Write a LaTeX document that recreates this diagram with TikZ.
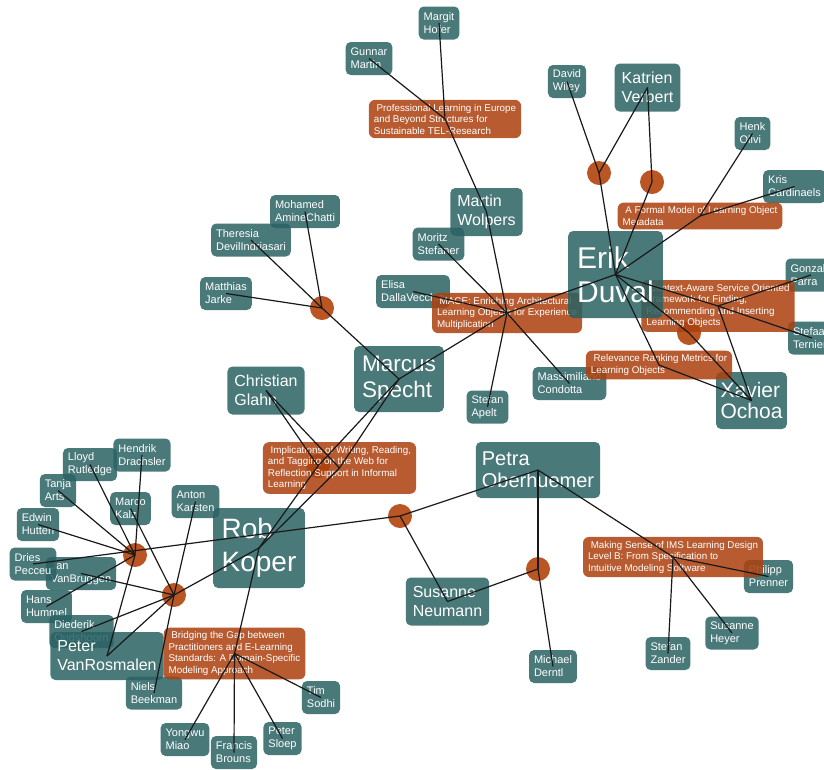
\documentclass[tikz,border=0pt]{standalone}
\usepackage{fontspec}
\setmainfont{Liberation Sans}

\definecolor{authorcol}{RGB}{42,97,99}
\definecolor{papercol}{RGB}{172,64,14}
\definecolor{hubcol}{RGB}{186,86,36}
\definecolor{linecol}{RGB}{25,25,25}

\tikzset{
  author/.style={fill=authorcol, fill opacity=0.85, text opacity=1, text=white,
    rounded corners=5pt, align=left, inner xsep=5pt, inner ysep=3pt,
    minimum height=33pt, font=\fontsize{11}{13}\selectfont},
  authorm/.style={author, inner xsep=7pt, minimum height=48pt,
    font=\fontsize{16}{19}\selectfont},
  paper/.style={fill=papercol, fill opacity=0.86, text opacity=1, text=white,
    rounded corners=6pt, align=left, inner xsep=5pt, inner ysep=4pt,
    font=\fontsize{9.8}{11.5}\selectfont},
  hub/.style={circle, fill=hubcol, minimum size=24pt, inner sep=0pt},
  link/.style={draw=linecol, line width=1.2pt}
}

\begin{document}
\begin{tikzpicture}[x=1pt, y=-1pt]
  \useasboundingbox (0,0) rectangle (824,769);

  % hubs (co-authored items without a title box)
  \node[hub] (h1) at (599,173) {};
  \node[hub] (h2) at (652,182) {};
  \node[hub] (h3) at (322,308) {};
  \node[hub] (h4) at (689,333) {};
  \node[hub] (h5) at (400,516) {};
  \node[hub] (h6) at (538,569) {};
  \node[hub] (h7) at (135,555) {};
  \node[hub] (h8) at (174,595) {};
  \node[hub] (h9) at (318,466) {};

  % top cluster
  \node[author] (margit) at (439,23) {Margit\\Hofer};
  \node[author] (gunnar) at (369,58.5) {Gunnar\\Martin};
  \node[paper] (profl) at (445,119) {~Professional Learning in Europe\\and Beyond Structures for\\Sustainable TEL-Research};

  \node[author] (wiley) at (567,81.5) {David\\Wiley};
  \node[authorm] (katrien) at (647.5,87.5) {Katrien\\Verbert};
  \node[author] (henk) at (752.5,133.5) {Henk\\Olivi};
  \node[author] (kris) at (794.5,186.5) {Kris\\Cardinaels};
  \node[paper] (formal) at (700,216) {~A Formal Model of Learning Object\\Metadata};

  \node[author] (mohamed) at (305,211.5) {Mohamed\\AmineChatti};
  \node[author] (theresia) at (251,240) {Theresia\\DevilIndriasari};
  \node[author] (matthias) at (226,293.5) {Matthias\\Jarke};

  \node[authorm] (wolpers) at (486.5,212) {Martin\\Wolpers};
  \node[author] (moritz) at (438.5,244) {Moritz\\Stefaner};
  \node[author] (elisa) at (413,291.5) {Elisa\\DallaVecchia};
  \node[paper] (mace) at (507,313) {~MACE: Enriching Architectural\\Learning Objects for Experience\\Multiplication};

  % Duval / Ochoa
  \node[author] (massimo) at (569.5,383.5) {Massimiliano\\Condotta};
  \node[author] (gonzalo) at (811,275) {Gonzalo\\Parra};
  \node[author] (stefaan) at (812,338) {Stefaan\\Ternier};
  \node[paper] (context) at (718,306) {~Context-Aware Service Oriented\\Framework for Finding,\\Recommending and Inserting\\Learning Objects};
  \node[author, font=\fontsize{30}{34}\selectfont, inner xsep=9pt, minimum height=87pt] (erik) at (615.5,274.5) {Erik\\Duval};
  \node[author, font=\fontsize{21}{21}\selectfont, inner xsep=4.5pt, minimum height=57pt] (xavier) at (751.5,400.5) {Xavier\\Ochoa};
  \node[paper] (relev) at (659,365) {~Relevance Ranking Metrics for\\Learning Objects};

  % Specht
  \node[authorm] (christian) at (266,390.5) {Christian\\Glahn};
  \node[author, font=\fontsize{22.5}{26}\selectfont, inner xsep=8pt, minimum height=66pt] (marcus) at (399,379) {Marcus\\Specht};
  \node[paper] (implic) at (339.5,468) {~Implications of Writing, Reading,\\and Tagging on the Web for\\Reflection Support in Informal\\Learning};
  \node[author] (apelt) at (487.5,407) {Stefan\\Apelt};

  % Oberhuemer
  \node[author, font=\fontsize{20}{22}\selectfont, inner xsep=6pt, minimum height=56pt] (petra) at (538,470) {Petra\\Oberhuemer};
  \node[authorm] (neumann) at (447.5,601.5) {Susanne\\Neumann};
  \node[author] (derntl) at (553,666.5) {Michael\\Derntl};
  \node[author] (prenner) at (768.5,576.5) {Philipp\\Prenner};
  \node[paper] (mksense) at (673,557) {~Making Sense of IMS Learning Design\\Level B: From Specification to\\Intuitive Modeling Software};
  \node[author] (heyer) at (732,633) {Susanne\\Heyer};
  \node[author] (zander) at (668,653.5) {Stefan\\Zander};

  % Koper cluster
  \node[author] (lloyd) at (90,464.5) {Lloyd\\Rutledge};
  \node[author] (hendrik) at (142,455) {Hendrik\\Drachsler};
  \node[author] (tanja) at (58,490.5) {Tanja\\Arts};
  \node[author] (edwin) at (38,524.5) {Edwin\\Hutten};
  \node[author] (marco) at (130.5,508.5) {Marco\\Kalz};
  \node[author, font=\fontsize{28}{33}\selectfont, inner xsep=8.5pt, minimum height=80pt] (rob) at (259,548) {Rob\\Koper};
  \node[author] (anton) at (195.5,501.5) {Anton\\Karsten};
  \node[author] (jan) at (81,573.5) {Jan\\VanBruggen};
  \node[author] (dries) at (33,564) {Dries\\Pecceu};
  \node[author] (hans) at (46.5,606.5) {Hans\\Hummel};
  \node[author] (diederik) at (81.5,631.5) {Diederik\\Oudshoorn};
  \node[authorm] (vanros) at (107,656) {Peter\\VanRosmalen};
  \node[author] (niels) at (154,693) {Niels\\Beekman};
  \node[paper] (bridge) at (234.5,653.5) {~Bridging the Gap between\\Practitioners and E-Learning\\Standards: A Domain-Specific\\Modeling Approach};
  \node[author] (yongwu) at (185,739.5) {Yongwu\\Miao};
  \node[author] (francis) at (234,752.5) {Francis\\Brouns};
  \node[author] (sloep) at (282.5,738.5) {Peter\\Sloep};
  \node[author] (tim) at (321,697.5) {Tim\\Sodhi};

  % links on top
  \foreach \a/\b in {margit/profl, gunnar/profl, profl/wolpers,
      wiley/h1, katrien/h1, h1/erik, katrien/h2, h2/erik,
      henk/formal, kris/formal, formal/erik,
      mohamed/h3, theresia/h3, matthias/h3, h3/marcus,
      wolpers/mace, moritz/mace, elisa/mace, mace/erik, mace/marcus, mace/apelt, mace/massimo,
      erik/context, gonzalo/context, stefaan/context, context/xavier,
      erik/h4, h4/xavier, erik/relev, relev/xavier,
      christian/implic, marcus/implic, implic/rob,
      christian/h9, marcus/h9, h9/rob,
      rob/h8, rob/bridge, bridge/tim, bridge/yongwu, bridge/francis, bridge/sloep,
      hendrik/h7, lloyd/h7, tanja/h7, edwin/h7, hans/h7, h7/vanros,
      anton/h8, marco/h8, jan/h8, diederik/h8, vanros/h8, niels/h8,
      dries/h5, petra/h5, neumann/h5,
      petra/h6, neumann/h6, derntl/h6,
      petra/mksense, prenner/mksense, heyer/mksense, zander/mksense}
    \draw[link] (\a.center) -- (\b.center);
\end{tikzpicture}
\end{document}
